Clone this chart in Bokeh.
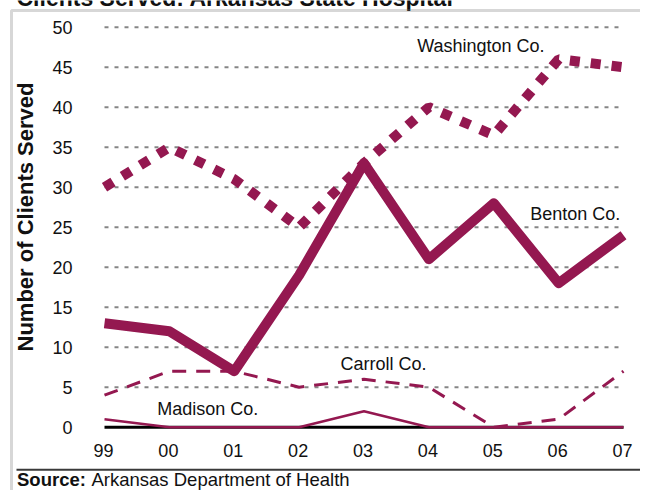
import math
from bokeh.plotting import figure
from bokeh.models import Range1d, Label, BoxAnnotation
from bokeh.core.properties import value
from bokeh.embed import file_html
from bokeh.resources import INLINE

# ---- data ----
years = ["99", "00", "01", "02", "03", "04", "05", "06", "07"]
washington = [30, 35, 31, 25, 33, 40, 36.5, 46, 45]
benton = [13, 12, 7, 19, 33, 21, 28, 18, 24]
carroll = [4, 7, 7, 5, 6, 5, 0, 1, 7]
madison = [1, 0, 0, 0, 2, 0, 0, 0, 0]
y_ticks = [0, 5, 10, 15, 20, 25, 30, 35, 40, 45, 50]
grid_values = [5, 10, 15, 20, 25, 30, 35, 40, 45, 50]
series_labels = ["Washington Co.", "Benton Co.", "Carroll Co.", "Madison Co."]
title_text = "Clients Served: Arkansas State Hospital"
y_title = "Number of Clients Served"
source_bold = "Source:"
source_text = "Arkansas Department of Health"

# ---- styling ----
MAROON = "#941850"
FONT = "Liberation Sans"
TXT = "#111111"
W, H = 640, 490

idx = list(range(len(years)))

# plotting scale: x index 0 -> px 104, index 8 -> px 623 ; y 0 -> px 426.7, 8 px per unit
X0PX, XSTEP = 104.0, 64.875
Y0PX, YSTEP = 426.7, 8.0
x_range = Range1d(-X0PX / XSTEP, (W - X0PX) / XSTEP)
y_range = Range1d((Y0PX - H) / YSTEP, Y0PX / YSTEP)

p = figure(width=W, height=H, output_backend="svg", toolbar_location=None,
           x_range=x_range, y_range=y_range,
           x_axis_type=None, y_axis_type=None, min_border=0)
p.outline_line_color = None
p.background_fill_color = "white"
p.border_fill_color = "white"

# dotted gridlines
n = len(grid_values)
p.segment(x0=[0.0] * n, x1=[7.97] * n, y0=grid_values, y1=grid_values,
          line_color="#858585", line_width=2, line_dash="4 6")
# zero baseline
p.line(x=[idx[0], idx[-1]], y=[0, 0], line_color="black", line_width=3)

# series
p.line(x=idx, y=madison, line_color=MAROON, line_width=2.6)
p.line(x=idx, y=carroll, line_color=MAROON, line_width=3, line_dash="14 10")
p.line(x=idx, y=benton, line_color=MAROON, line_width=10, line_join="round")
p.line(x=idx, y=washington, line_color=MAROON, line_width=10, line_dash="10 11")

# tick labels, placed through the plot scales
p.text(x=[idx[0]] * len(y_ticks), y=y_ticks, text=[str(t) for t in y_ticks],
       x_offset=-32, text_align="right", text_baseline="middle",
       text_font=value(FONT), text_font_size="18px", text_color=TXT)
p.text(x=idx, y=[0] * len(idx), text=years, x_offset=-1, y_offset=23,
       text_align="center", text_baseline="middle",
       text_font=value(FONT), text_font_size="18px", text_color=TXT)

# series labels (x in category index, y in data units)
label_pos = [(4.82, 47.7), (6.561, 26.6), (3.638, 7.9), (0.812, 2.3)]
for t, (lx, ly) in zip(series_labels, label_pos):
    p.add_layout(Label(x=lx, y=ly, text=t, text_font=FONT, text_font_size="18px",
                       text_color=TXT, text_baseline="alphabetic", text_align="left"))

# y-axis title (screen units: origin bottom-left)
p.add_layout(Label(x=25, y=H - 216.5, x_units="screen", y_units="screen",
                   text=y_title, angle=math.pi / 2, text_font=FONT,
                   text_font_size="22px", text_font_style="bold", text_color=TXT,
                   text_align="center", text_baseline="middle"))

# chart title (cut off at the top, as in the reference)
p.add_layout(Label(x=16, y=H + 3, x_units="screen", y_units="screen",
                   text=title_text, text_font=FONT, text_font_size="23px",
                   text_font_style="bold", text_color=TXT, text_baseline="alphabetic"))

# outer box (left + top edge) and the separator above the source note
p.add_layout(BoxAnnotation(left=11, right=W + 50, top=H - 10, bottom=-50,
                           left_units="screen", right_units="screen",
                           top_units="screen", bottom_units="screen",
                           fill_alpha=0, line_color="#7a7a7a", line_width=3))
p.add_layout(BoxAnnotation(left=16, right=W + 50, top=H - 468.3, bottom=H - 470.3,
                           left_units="screen", right_units="screen",
                           top_units="screen", bottom_units="screen",
                           fill_color="#3a3a3a", fill_alpha=1, line_alpha=0))

# source note
p.add_layout(Label(x=16.5, y=H - 479, x_units="screen", y_units="screen",
                   text=source_bold, text_font=FONT, text_font_size="18.5px",
                   text_font_style="bold", text_color=TXT, text_baseline="alphabetic"))
p.add_layout(Label(x=91, y=H - 479, x_units="screen", y_units="screen",
                   text=source_text, text_font=FONT, text_font_size="18.5px",
                   text_color=TXT, text_baseline="alphabetic"))

open("out.html", "w").write(file_html(p, INLINE))
